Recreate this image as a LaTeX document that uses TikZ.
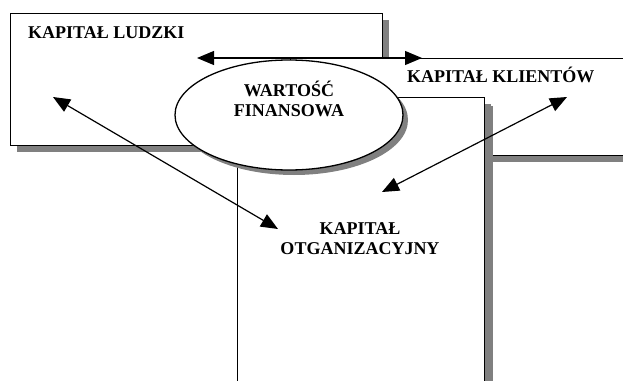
\documentclass[tikz,border=0pt]{standalone}
\usepackage{fontspec}
\setmainfont{Liberation Serif}[BoldFont={Liberation Serif Bold}]
\usepackage{tikz}
\usetikzlibrary{arrows.meta,shapes,shadows,positioning,calc}
\definecolor{shadowgray}{RGB}{128,128,128}

\begin{document}
\begin{tikzpicture}[x=1pt, y=-1pt,
    box/.style={draw, fill=white, line width=1.3pt, inner sep=0pt, anchor=north west,
        drop shadow={shadow xshift=6pt, shadow yshift=-6pt, fill=shadowgray, opacity=1}},
    caption/.style={font=\fontsize{18}{20}\selectfont\bfseries, inner sep=0pt, align=center},
    link/.style={line width=1.2pt, {Triangle[length=17pt,width=14pt]}-{Triangle[length=17pt,width=14pt]}}]
    \clip (0,0) rectangle (623,380);

    % The three capital boxes
    \node[box, minimum width=372pt, minimum height=132pt] (ludzki) at (10,13) {};
    \node[box, minimum width=360pt, minimum height=97pt] (klienci) at (290,58) {};
    \node[box, minimum width=247pt, minimum height=320pt,
        drop shadow={shadow xshift=8pt, shadow yshift=-8pt, fill=shadowgray, opacity=1}] (organizacja) at (237,97) {};

    % Financial value in the middle
    \node[ellipse, draw, fill=white, line width=1.3pt, minimum width=228pt, minimum height=110pt,
        drop shadow={shadow xshift=5pt, shadow yshift=-5pt, fill=shadowgray, opacity=1}] (wartosc) at (289,115) {};

    % Labels
    \node[caption, anchor=base west] (ludzkiText) at (28,38) {KAPITAŁ LUDZKI};
    \node[caption, anchor=base west] (klienciText) at (407,82) {KAPITAŁ KLIENTÓW};
    \node[caption] (wartoscText) at (289,99) {WARTOŚĆ\\FINANSOWA};
    \node[caption] (organizacjaText) at (360,239) {KAPITAŁ\\OTGANIZACYJNY};

    % Arrow ends
    \coordinate (ludzkiTop) at (197,58);
    \coordinate (klienciTop) at (422,58);
    \coordinate (ludzkiIn) at (53,97);
    \coordinate (orgLeft) at (278,229);
    \coordinate (klienciIn) at (567,97);
    \coordinate (orgTop) at (382,192);

    % Connections
    \draw[link] (ludzkiTop) -- (klienciTop);
    \draw[link] (ludzkiIn) -- (orgLeft);
    \draw[link] (klienciIn) -- (orgTop);

\end{tikzpicture}
\end{document}
